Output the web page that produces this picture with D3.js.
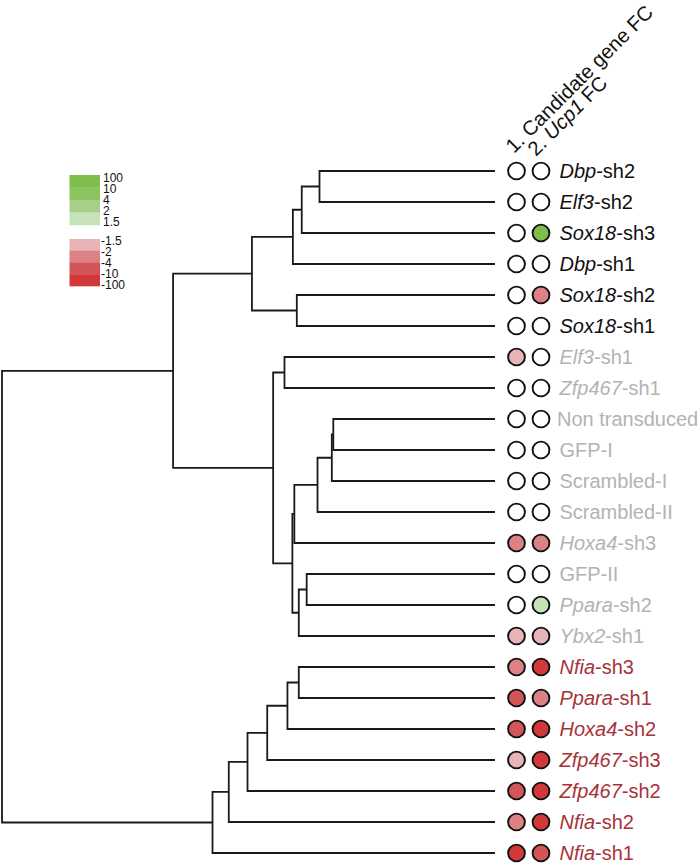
<!DOCTYPE html>
<html>
<head>
<meta charset="utf-8">
<script src="https://cdn.jsdelivr.net/npm/d3@7/dist/d3.min.js"></script>
<style>
  html, body { margin: 0; padding: 0; background: #fff; }
  svg { display: block; font-family: "Liberation Sans", Arial, Helvetica, sans-serif; }
</style>
</head>
<body>
<svg id="chart" width="700" height="867"></svg>
<script>
// ---------------- DATA ----------------
const leaves = ["Dbp-sh2","Elf3-sh2","Sox18-sh3","Dbp-sh1","Sox18-sh2","Sox18-sh1",
  "Elf3-sh1","Zfp467-sh1","Non transduced","GFP-I","Scrambled-I","Scrambled-II",
  "Hoxa4-sh3","GFP-II","Ppara-sh2","Ybx2-sh1","Nfia-sh3","Ppara-sh1","Hoxa4-sh2",
  "Zfp467-sh3","Zfp467-sh2","Nfia-sh2","Nfia-sh1"];
const italicPart = ["Dbp","Elf3","Sox18","Dbp","Sox18","Sox18",
  "Elf3","Zfp467","","","","",
  "Hoxa4","","Ppara","Ybx2","Nfia","Ppara","Hoxa4",
  "Zfp467","Zfp467","Nfia","Nfia"];
const plainPart = ["-sh2","-sh2","-sh3","-sh1","-sh2","-sh1",
  "-sh1","-sh1","Non transduced","GFP-I","Scrambled-I","Scrambled-II",
  "-sh3","GFP-II","-sh2","-sh1","-sh3","-sh1","-sh2",
  "-sh3","-sh2","-sh2","-sh1"];
const labelClass = ["hit","hit","hit","hit","hit","hit",
  "ctrl","ctrl","ctrl","ctrl","ctrl","ctrl","ctrl","ctrl","ctrl","ctrl",
  "down","down","down","down","down","down","down"];
// fold changes (0 = not significant / no colour)
const candidateFC = [0,0,0,0,0,0,-1.8,0,0,0,0,0,-3,0,0,-1.8,-3,-6,-6,-1.8,-6,-3,-15];
const ucp1FC      = [0,0,12,0,-3,0,0,0,0,0,0,0,-3,0,1.8,-1.8,-15,-3,-15,-15,-15,-15,-6];
// linkage: [child A, child B, merge height]; "mN" refers to the N-th merge
const merges = [
  ["Dbp-sh2","Elf3-sh2",35.6],
  ["m0","Sox18-sh3",39.2],
  ["m1","Dbp-sh1",41.0],
  ["Sox18-sh2","Sox18-sh1",40.2],
  ["m2","m3",49.3],
  ["Elf3-sh1","Zfp467-sh1",42.7],
  ["Non transduced","GFP-I",32.8],
  ["m6","Scrambled-I",33.1],
  ["m7","Scrambled-II",36.0],
  ["m8","Hoxa4-sh3",40.7],
  ["GFP-II","Ppara-sh2",38.2],
  ["m10","Ybx2-sh1",39.8],
  ["m9","m11",41.1],
  ["m5","m12",45.0],
  ["m4","m13",65.3],
  ["Nfia-sh3","Ppara-sh1",39.8],
  ["m15","Hoxa4-sh2",42.1],
  ["m16","Zfp467-sh3",46.2],
  ["m17","Zfp467-sh2",50.2],
  ["m18","Nfia-sh2",54.0],
  ["m19","Nfia-sh1",57.3],
  ["m14","m20",100]
];
// legend
const greenTicks = ["100","10","4","2","1.5"];
const redTicks = ["-1.5","-2","-4","-10","-100"];
const fcThresholds = [-10,-4,-2,-1.5,1.5,2,4,10];
const fcColors = ["#d2373a","#d45558","#dc8184","#e9b4b7","#ffffff","#c6e1b4","#a6d08a","#8cc462","#7fbd4c"];
const greenBands = ["#7fbd4c","#8cc462","#a6d08a","#c8e2b8"];
const redBands = ["#e9b4b7","#dc8184","#d45558","#d2373a"];
const header1 = "1. Candidate gene FC";
const header2 = ["2. ", "Ucp1", " FC"];

// ---------------- BUILD TREE ----------------
const nodes = {};
leaves.forEach(n => nodes[n] = {name: n, h: 0, children: null});
merges.forEach((m, i) => {
  nodes["m" + i] = {name: "m" + i, h: m[2], children: [nodes[m[0]], nodes[m[1]]]};
});
const root = d3.hierarchy(nodes["m" + (merges.length - 1)], d => d.children);

const svg = d3.select("#chart");
const yLeaf = d3.scalePoint().domain(leaves).range([171, 853]);
const xH = d3.scaleLinear().domain([0, 100]).range([495, 2]);
root.eachAfter(n => {
  n.yy = n.children ? d3.mean(n.children, c => c.yy) : yLeaf(n.data.name);
  n.xx = xH(n.data.h);
});

// dendrogram
svg.append("g").selectAll("path")
  .data(root.descendants().filter(d => d.children))
  .join("path")
  .attr("fill", "none")
  .attr("stroke", "#1a1a1a")
  .attr("stroke-width", 1.8)
  .attr("d", d => {
    const [a, b] = d.children;
    return `M${a.xx},${a.yy}H${d.xx}V${b.yy}H${b.xx}`;
  });

// circles
const fcColor = d3.scaleThreshold().domain(fcThresholds).range(fcColors);
const circX = [516.5, 541];
[candidateFC, ucp1FC].forEach((vals, k) => {
  svg.append("g").selectAll("circle")
    .data(leaves)
    .join("circle")
    .attr("cx", circX[k])
    .attr("cy", d => yLeaf(d))
    .attr("r", 8.4)
    .attr("fill", (d, i) => vals[i] === 0 ? "#ffffff" : fcColor(vals[i]))
    .attr("stroke", "#111")
    .attr("stroke-width", 1.9);
});

// labels
const classColor = {hit: "#111111", ctrl: "#b3b3b3", down: "#a8323a"};
const lab = svg.append("g").selectAll("text")
  .data(leaves)
  .join("text")
  .attr("x", d => d === "Non transduced" ? 557 : 559.5)
  .attr("y", d => yLeaf(d))
  .attr("dy", "0.36em")
  .attr("font-size", 20)
  .attr("fill", (d, i) => classColor[labelClass[i]]);
lab.each(function(d, i) {
  const t = d3.select(this);
  if (italicPart[i]) t.append("tspan").attr("font-style", "italic").text(italicPart[i]);
  t.append("tspan").text(plainPart[i]);
});

// header
svg.append("text")
  .attr("transform", "translate(514,154) rotate(-45)")
  .attr("font-size", 20.3).attr("fill", "#111")
  .text(header1);
const h2 = svg.append("text")
  .attr("transform", "translate(536,157) rotate(-45)")
  .attr("font-size", 20.3).attr("fill", "#111");
h2.append("tspan").text(header2[0]);
h2.append("tspan").attr("font-style", "italic").text(header2[1]);
h2.append("tspan").text(header2[2]);

// legend
const lg = svg.append("g");
const gy = d3.scaleBand().domain(d3.range(greenBands.length)).range([175, 225]);
lg.selectAll("rect.g").data(greenBands).join("rect")
  .attr("x", 69.5).attr("width", 30.5)
  .attr("y", (d, i) => gy(i)).attr("height", gy.bandwidth() + 0.3)
  .attr("fill", d => d);
const ry = d3.scaleBand().domain(d3.range(redBands.length)).range([239, 286]);
lg.selectAll("rect.r").data(redBands).join("rect")
  .attr("x", 69.5).attr("width", 30.5)
  .attr("y", (d, i) => ry(i)).attr("height", ry.bandwidth() + 0.3)
  .attr("fill", d => d);
const gTickY = d3.scalePoint().domain(greenTicks).range([177.5, 222]);
lg.selectAll("text.g").data(greenTicks).join("text")
  .attr("x", 103).attr("y", d => gTickY(d)).attr("dy", "0.36em")
  .attr("font-size", 12).attr("fill", "#111").text(d => d);
const rTickY = d3.scalePoint().domain(redTicks).range([241, 285]);
lg.selectAll("text.r").data(redTicks).join("text")
  .attr("x", 101).attr("y", d => rTickY(d)).attr("dy", "0.36em")
  .attr("font-size", 12).attr("fill", "#111").text(d => d);
</script>
</body>
</html>
